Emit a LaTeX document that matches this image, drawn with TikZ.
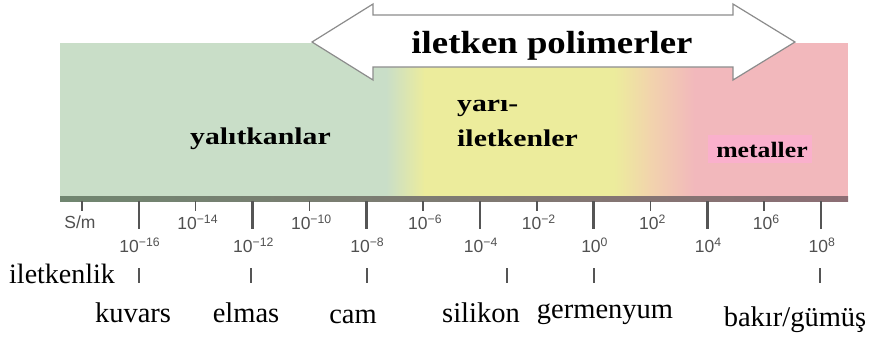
\documentclass[tikz,border=0pt]{standalone}
\usepackage{fontspec}
\setmainfont{Liberation Serif}
\newfontfamily\scalesans{Liberation Sans}
\definecolor{bandgreen}{RGB}{201,222,200}
\definecolor{bandyellow}{RGB}{236,236,156}
\definecolor{bandpeach}{RGB}{242,212,172}
\definecolor{bandpink}{RGB}{242,184,188}
\definecolor{metalbox}{RGB}{250,176,204}
\definecolor{linegreen}{RGB}{112,134,112}
\definecolor{lineyellow}{RGB}{140,140,100}
\definecolor{linepink}{RGB}{140,110,116}
\definecolor{tickgray}{RGB}{85,85,85}
\definecolor{labelgray}{RGB}{80,80,80}
\definecolor{arrowgray}{RGB}{140,140,140}
\newcommand{\hstretch}[2]{\scalebox{#1}[1]{#2}}
\tikzset{
  bandlabel/.style={font=\fontsize{24}{24}\selectfont\bfseries, inner sep=0pt, anchor=base west},
  matlabel/.style={font=\fontsize{28.5}{28.5}\selectfont, inner sep=0pt, anchor=base},
  majortick/.style={draw=tickgray, line width=2.6pt},
  minortick/.style={draw=tickgray, line width=1.5pt},
  scalelabel/.style={font=\scalesans\fontsize{17.5}{17.5}\selectfont, text=labelgray, inner sep=0pt},
  marktick/.style={draw=tickgray, line width=2.6pt},
}
\begin{document}
\begin{tikzpicture}[x=1pt,y=-1pt]
\useasboundingbox (0,0) rectangle (878,341);
% colour band
\fill[bandgreen] (60,43) rectangle (387,197);
\shade[left color=bandgreen,right color=bandyellow] (386,43) rectangle (425,197);
\fill[bandyellow] (424,43) rectangle (615,197);
\shade[left color=bandyellow,right color=bandpeach] (614,43) rectangle (650,197);
\shade[left color=bandpeach,right color=bandpink] (649,43) rectangle (695,197);
\fill[bandpink] (694,43) rectangle (848,197);
% bottom edge of the band
\shade[left color=linegreen,middle color=lineyellow,right color=linepink] (60,196) rectangle (848,201);
% double arrow
\filldraw[fill=white, draw=arrowgray, line width=1.2pt, line join=miter]
  (312,42) -- (373,4) -- (373,15) -- (733,15) -- (733,4) -- (795,42)
  -- (733,80) -- (733,67) -- (373,67) -- (373,80) -- cycle;
\node[font=\fontsize{32}{32}\selectfont\bfseries, inner sep=0pt, anchor=base] (title) at (552,53) {\hstretch{1.15}{iletken polimerler}};
% band labels
\node[bandlabel] (yalitkan) at (190,144) {\hstretch{1.24}{yalıtkanlar}};
\node[bandlabel] (yari) at (457,111) {\hstretch{1.24}{yarı-}};
\node[bandlabel] (iletkenler) at (457,146) {\hstretch{1.24}{iletkenler}};
\fill[metalbox] (708,135) rectangle (812,163);
\node[font=\fontsize{22}{22}\selectfont\bfseries, inner sep=0pt, anchor=base] (metaller) at (762,157) {\hstretch{1.17}{metaller}};
% scale ticks and labels
\foreach \k in {0,...,13}{
  \pgfmathsetmacro{\xx}{82+56.85*\k}
  \pgfmathtruncatemacro{\ee}{-18+2*\k}
  \pgfmathtruncatemacro{\odd}{mod(\k,2)}
  \ifnum\odd=1
    \coordinate (tt\k) at (\xx,201);
    \coordinate (tb\k) at (\xx,229);
    \draw[majortick] (tt\k) -- (tb\k);
    \node[scalelabel] (lab\k) at (\xx+1,245) {10\textsuperscript{\ifnum\ee<0 −\the\numexpr-\ee\relax\else\ee\fi}};
  \else
    \coordinate (tt\k) at (\xx,201);
    \coordinate (tb\k) at (\xx,211);
    \draw[minortick] (tt\k) -- (tb\k);
    \ifnum\k=0
      \node[scalelabel] (lab\k) at (\xx-2,222) {S/m};
    \else
      \node[scalelabel] (lab\k) at (\xx+2,222) {10\textsuperscript{\ifnum\ee<0 −\the\numexpr-\ee\relax\else\ee\fi}};
    \fi
  \fi
}
% conductivity row
\node[font=\fontsize{28}{28}\selectfont, inner sep=0pt, anchor=base west] (iletkenlik) at (9,283) {iletkenlik};
\foreach \mx/\nm in {139/m1,251/m2,367/m3,507/m4,594/m5,820/m6}{
  \coordinate (\nm t) at (\mx,268);
  \coordinate (\nm b) at (\mx,283);
  \draw[marktick] (\nm t) -- (\nm b);
}
\node[matlabel] (kuvars) at (133,322) {kuvars};
\node[matlabel] (elmas) at (246,322) {elmas};
\node[matlabel] (cam) at (353,323) {cam};
\node[matlabel] (silikon) at (481,322) {silikon};
\node[matlabel] (germenyum) at (605,318) {germenyum};
\node[matlabel] (bakir) at (795,326) {bakır/gümüş};
\end{tikzpicture}
\end{document}
